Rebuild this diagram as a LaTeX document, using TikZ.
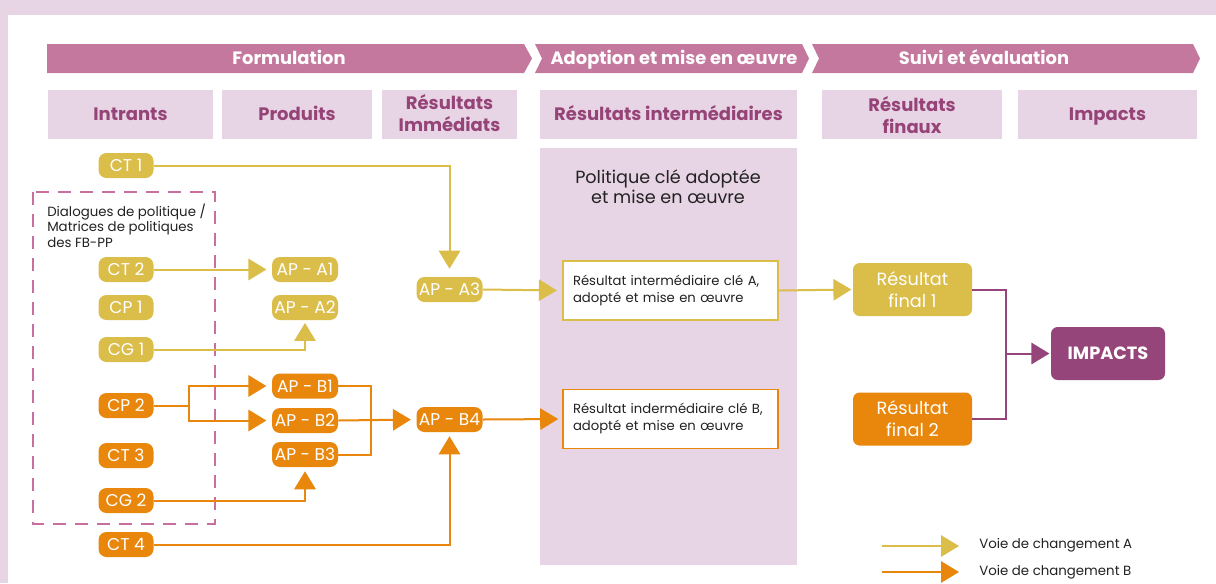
\documentclass[tikz,border=0pt]{standalone}
\usepackage{fontspec}
\setmainfont{Poppins}
\usetikzlibrary{arrows.meta}
\definecolor{lilac}{HTML}{E7D4E4}
\definecolor{bannerc}{HTML}{C5789E}
\definecolor{headtxt}{HTML}{964478}
\definecolor{yel}{HTML}{DBBD4A}
\definecolor{ora}{HTML}{E8870C}
\definecolor{impc}{HTML}{96457A}
\definecolor{dashc}{HTML}{C96FA0}
\definecolor{txt}{HTML}{222222}
\begin{document}
\begin{tikzpicture}[x=0.75pt,y=-0.75pt,
  bannertxt/.style={text=white, font=\bfseries\fontsize{13.4}{15}\selectfont, inner sep=0pt, anchor=base},
  headbox/.style={fill=lilac, minimum height=36.75pt, inner sep=0pt},
  headtext/.style={align=center, text=headtxt, font=\bfseries\fontsize{13.5}{16}\selectfont, inner sep=0pt, anchor=base},
  pill/.style={rounded corners=6pt, minimum height=18.75pt, inner sep=0pt, text=white, font=\fontsize{12.8}{13}\selectfont},
  ctpill/.style={pill, minimum width=41.25pt},
  appill/.style={pill, minimum width=49.5pt},
  ypill/.style={fill=yel},
  opill/.style={fill=ora},
  resbox/.style={fill=white, line width=1.2pt, text width=146.25pt, inner xsep=7.5pt, inner ysep=0pt, minimum height=44.25pt, align=left, text=txt, font=\fontsize{9.9}{12.75}\selectfont},
  finbox/.style={rounded corners=5pt, minimum width=89.25pt, minimum height=39.75pt, inner sep=0pt, align=center, text=white, font=\fontsize{13.3}{16.5}\selectfont},
  tip/.style={-{Triangle[length=13.5pt,width=16pt]}},
  ya/.style={draw=yel, line width=1.5pt},
  ob/.style={draw=ora, line width=1.5pt},
  pu/.style={draw=impc, line width=1.5pt},
  smalltxt/.style={text=txt, font=\fontsize{10}{11.6}\selectfont, inner sep=0pt},
]
\useasboundingbox (0,0) rectangle (1216,583);
\fill[lilac] (0,0) rectangle (1216,583);
\fill[white] (8,15) rectangle (1216,583);

% banners
\fill[bannerc] (47,44) -- (524,44) -- (532,58.5) -- (524,73) -- (47,73) -- cycle;
\fill[bannerc] (535,44) -- (802,44) -- (809,58.5) -- (802,73) -- (535,73) -- (542,58.5) -- cycle;
\fill[bannerc] (812,44) -- (1193,44) -- (1200,58.5) -- (1193,73) -- (812,73) -- (819,58.5) -- cycle;
\node[bannertxt] (bform) at (289,64) {Formulation};
\node[bannertxt] (badop) at (674,64) {Adoption et mise en œuvre};
\node[bannertxt] (bsuivi) at (984,64) {Suivi et évaluation};

% header boxes
\node[headbox, minimum width=123.75pt] (hint) at (130.5,114.5) {};
\node[headbox, minimum width=112.5pt] (hprod) at (297,114.5) {};
\node[headbox, minimum width=101.25pt] (himm) at (449.5,114.5) {};
\node[headbox, minimum width=192.75pt] (hinter) at (668.5,114.5) {};
\node[headbox, minimum width=135pt] (hfin) at (912,114.5) {};
\node[headbox, minimum width=134.25pt] (himp) at (1107.5,114.5) {};
\node[headtext] (tint) at (130.5,120.5) {Intrants};
\node[headtext] (tprod) at (297,120.5) {Produits};
\node[headtext] (timm) at (449.5,131) {Résultats\\Immédiats};
\node[headtext] (tinter) at (668.5,120.5) {Résultats intermédiaires};
\node[headtext] (tfin) at (912,133) {Résultats\\finaux};
\node[headtext] (timp) at (1107.5,120.5) {Impacts};

% column
\fill[lilac] (540,148) rectangle (797,565);
\node[align=center, text=txt, font=\fontsize{13.2}{15}\selectfont, inner sep=0pt, anchor=base] (pol) at (668,203) {Politique clé adoptée\\et mise en œuvre};

% dashed box
\draw[dashc, line width=1pt, dash pattern=on 10pt off 6.5pt] (33,192) rectangle (215,524);
\node[smalltxt, anchor=base west, align=left] (dlg) at (47,247) {Dialogues de politique /\\Matrices de politiques\\des FB-PP};

% input pills
\node[ctpill, ypill] (ct1) at (126,165.5) {CT 1};
\node[ctpill, ypill] (ct2) at (126,269.5) {CT 2};
\node[ctpill, ypill] (cp1) at (126,307.5) {CP 1};
\node[ctpill, ypill] (cg1) at (126,349.5) {CG 1};
\node[ctpill, opill] (cp2) at (126,405.5) {CP 2};
\node[ctpill, opill] (ct3) at (126,455.5) {CT 3};
\node[ctpill, opill] (cg2) at (126,500.5) {CG 2};
\node[ctpill, opill] (ct4) at (126,544.5) {CT 4};

% output pills
\node[appill, ypill] (apa1) at (305,269.5) {AP - A1};
\node[appill, ypill] (apa2) at (305,307.5) {AP - A2};
\node[appill, opill] (apb1) at (305,386) {AP - B1};
\node[appill, opill] (apb2) at (305,420.5) {AP - B2};
\node[appill, opill] (apb3) at (305,454.5) {AP - B3};
\node[appill, ypill] (apa3) at (449.5,289.5) {AP - A3};
\node[appill, opill] (apb4) at (449.5,419.5) {AP - B4};

% result boxes
\node[resbox, draw=yel] (resa) at (670.5,290.5) {Résultat intermédiaire clé A,\\adopté et mise en œuvre};
\node[resbox, draw=ora] (resb) at (670.5,419) {Résultat indermédiaire clé B,\\adopté et mise en œuvre};

% final
\node[finbox, fill=yel] (rf1) at (912.5,289.5) {Résultat\\final 1};
\node[finbox, fill=ora] (rf2) at (912.5,419) {Résultat\\final 2};
\node[finbox, fill=impc, minimum width=85.5pt, font=\bfseries\fontsize{13.3}{15}\selectfont] (imp) at (1108,353.5) {IMPACTS};

% connectors A
\draw[ya, tip, shorten >=6pt] (ct1.east) -| (apa3.north);
\draw[ya, tip, shorten >=4pt] (ct2.east) -- (apa1.west);
\draw[ya, tip, shorten >=2pt] (cg1.east) -| (apa2.south);
\draw[ya, tip, shorten >=4pt] (apa3.east) -- (resa.west);
\draw[ya, tip, shorten >=1pt] (resa.east) -- (rf1.west);

% connectors B
\coordinate (split) at (189,405.5);
\draw[ob] (cp2.east) -- (split);
\draw[ob, tip, shorten >=4pt] (split) |- (apb1.west);
\draw[ob, tip, shorten >=4pt] (split) |- (apb2.west);
\coordinate (joinb) at (371,420.5);
\draw[ob] (apb1.east) -| (joinb) |- (apb3.east);
\draw[ob, tip, shorten >=4pt] (apb2.east) -- (apb4.west);
\draw[ob, tip, shorten >=3pt] (cg2.east) -| (apb3.south);
\draw[ob, tip, shorten >=3pt] (ct4.east) -| (apb4.south);
\draw[ob, tip, shorten >=3pt] (apb4.east) -- (resb.west);

% connectors to impacts
\coordinate (mid) at (1006,353.5);
\draw[pu] (rf1.east) -| (mid) |- (rf2.east);
\draw[pu, tip, shorten >=1pt] (mid) -- (imp.west);

% legend
\coordinate (la1) at (882,546);
\coordinate (la2) at (959,546);
\coordinate (lb1) at (882,572);
\coordinate (lb2) at (959,572);
\draw[ya, tip] (la1) -- (la2);
\draw[ob, tip] (lb1) -- (lb2);
\node[smalltxt, anchor=base west] (lega) at (979,548) {Voie de changement A};
\node[smalltxt, anchor=base west] (legb) at (979,575) {Voie de changement B};
\end{tikzpicture}
\end{document}
